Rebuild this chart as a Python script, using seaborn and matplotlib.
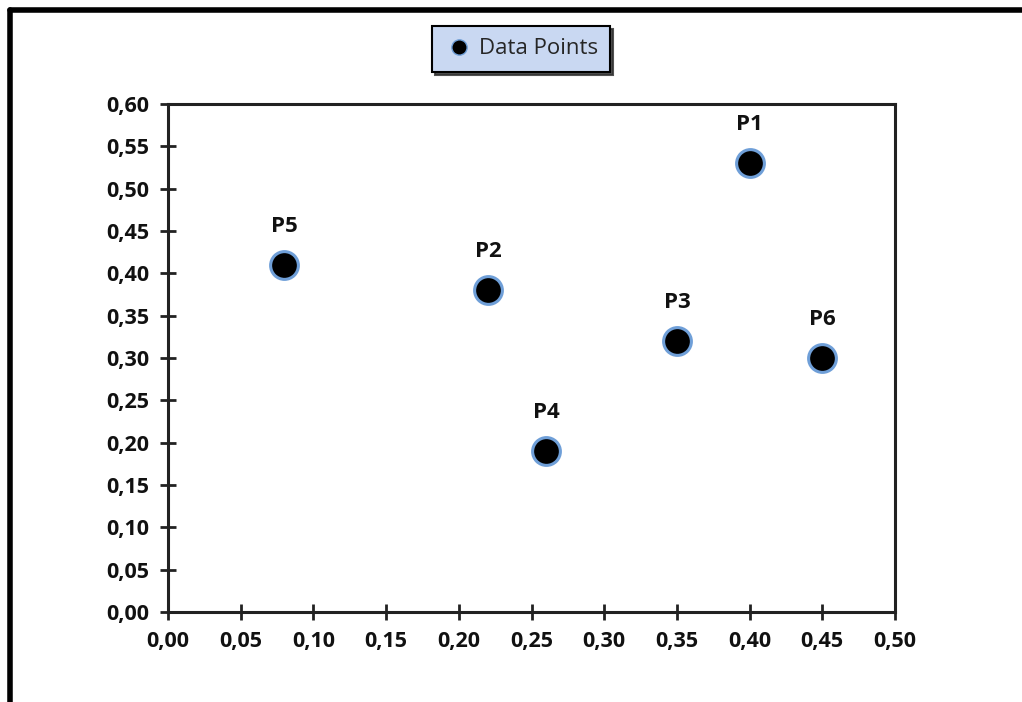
import matplotlib
matplotlib.use("Agg")
import matplotlib.pyplot as plt
import seaborn as sns
import pandas as pd
from matplotlib.ticker import FuncFormatter, MultipleLocator
from matplotlib.lines import Line2D

labels = ["P1", "P2", "P3", "P4", "P5", "P6"]
x_vals = [0.40, 0.22, 0.35, 0.26, 0.08, 0.45]
y_vals = [0.53, 0.38, 0.32, 0.19, 0.41, 0.30]
series_name = "Data Points"

df = pd.DataFrame({"x": x_vals, "y": y_vals, "label": labels})

sns.set_theme(style="white")
plt.rcParams["font.family"] = ["Open Sans", "DejaVu Sans"]

fig = plt.figure(figsize=(10.22, 7.02), dpi=100)
ax = fig.add_axes([168/1022, 1-612/702, (895-168)/1022, (612-104)/702])

sns.scatterplot(data=df, x="x", y="y", ax=ax, s=400, color="black",
                edgecolor="#6f9fd8", linewidth=2.2, zorder=3, legend=False)

for xv, yv, lb in zip(x_vals, y_vals, labels):
    ax.annotate(lb, (xv, yv), xytext=(0, 20), textcoords="offset points",
                ha="center", va="bottom", fontsize=16, fontweight="bold", color="#111111")

ax.set_xlim(0, 0.5)
ax.set_ylim(0, 0.6)
ax.xaxis.set_major_locator(MultipleLocator(0.05))
ax.yaxis.set_major_locator(MultipleLocator(0.05))
fmt = FuncFormatter(lambda v, p: f"{v:.2f}".replace(".", ","))
ax.xaxis.set_major_formatter(fmt)
ax.yaxis.set_major_formatter(fmt)
ax.set_xlabel("")
ax.set_ylabel("")
ax.tick_params(axis="both", direction="inout", length=11, width=2, color="#222222",
               labelsize=15.5, pad=8, labelcolor="#111111")
ax.tick_params(axis="both", bottom=True, left=True)
for lab in ax.get_xticklabels() + ax.get_yticklabels():
    lab.set_fontweight("bold")
for sp in ax.spines.values():
    sp.set_visible(True)
    sp.set_color("#222222")
    sp.set_linewidth(2.2)

handle = Line2D([], [], marker="o", linestyle="", markersize=11, markerfacecolor="black",
                markeredgecolor="#6f9fd8", markeredgewidth=1)
leg = fig.legend([handle], [series_name], loc="center", bbox_to_anchor=(521/1022, 1-49/702),
                 frameon=True, fancybox=False, shadow={"color": "#333333", "alpha": 0.85},
                 fontsize=16, handletextpad=0.25, borderpad=0.55, handlelength=1.3,
                 borderaxespad=0)
frame = leg.get_frame()
frame.set_facecolor("#c9d8f2")
frame.set_edgecolor("black")
frame.set_linewidth(1.5)
frame.set_alpha(1)

# outer chart border (left and top visible)
fig.add_artist(Line2D([10/1022, 10/1022], [0, 1-10/702], transform=fig.transFigure,
                      color="black", linewidth=4))
fig.add_artist(Line2D([10/1022, 1], [1-10/702, 1-10/702], transform=fig.transFigure,
                      color="black", linewidth=4))

fig.savefig("out.png", dpi=100, facecolor="white")
